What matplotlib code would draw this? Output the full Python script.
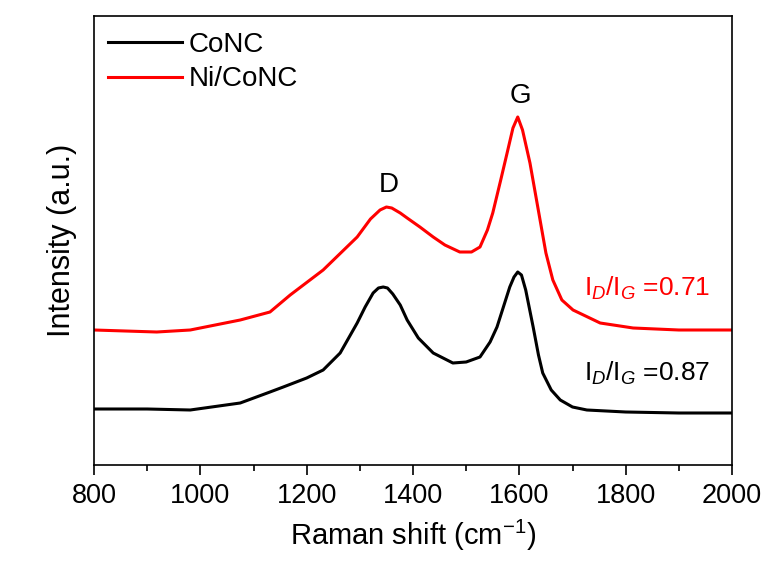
"""Raman spectra of CoNC and Ni/CoNC (D and G bands)."""
import matplotlib
matplotlib.use('Agg')
import matplotlib.pyplot as plt

plt.rcParams['font.family'] = ['Liberation Sans', 'DejaVu Sans']
plt.rcParams['mathtext.fontset'] = 'custom'
plt.rcParams['mathtext.rm'] = 'Liberation Sans'
plt.rcParams['mathtext.it'] = 'Liberation Sans:italic'

# data (intensity in a.u.)
conc_shift = [800, 900, 981, 1075, 1131, 1156, 1200, 1231, 1263, 1295, 1310, 1325,
              1335, 1344, 1352, 1362, 1376, 1389, 1410, 1438, 1475, 1500, 1526,
              1545, 1558, 1570, 1582, 1590, 1597, 1604, 1612, 1626, 1636, 1644,
              1660, 1677, 1700, 1727, 1800, 1900, 2000]
conc_int = [56, 56, 55, 62, 73, 78, 87, 95, 112, 142, 158, 172,
            177, 178, 177, 171, 160, 145, 127, 112, 102, 103, 108,
            123, 138, 158, 178, 188, 193, 190, 175, 138, 110, 92,
            75, 65, 58, 55, 53, 52, 52]

niconc_shift = [800, 918, 981, 1075, 1131, 1169, 1231, 1295, 1320, 1338, 1350, 1360,
                1376, 1389, 1413, 1438, 1460, 1488, 1510, 1526, 1540, 1550, 1565,
                1577, 1588, 1597, 1606, 1620, 1630, 1639, 1650, 1663, 1680, 1701,
                1752, 1814, 1900, 2000]
niconc_int = [135, 133, 135, 145, 153, 170, 195, 228, 246, 255, 258, 257,
              252, 247, 238, 228, 220, 213, 213, 218, 235, 252, 285,
              312, 337, 348, 335, 302, 272, 245, 212, 185, 165, 155,
              142, 137, 135, 135]

labels = ['CoNC', 'Ni/CoNC']
colors = ['black', 'red']
ratio_text = [r'I$_{\mathit{D}}$/I$_{\mathit{G}}$ =0.87', r'I$_{\mathit{D}}$/I$_{\mathit{G}}$ =0.71']

fig = plt.figure(figsize=(7.71, 5.76), dpi=100)
ax = fig.add_axes([94 / 771, 1 - 465 / 576, 638 / 771, 449 / 576])

ax.plot(conc_shift, conc_int, color=colors[0], linewidth=2.2, label=labels[0])
ax.plot(niconc_shift, niconc_int, color=colors[1], linewidth=2.2, label=labels[1])

ax.set_xlim(800, 2000)
ax.set_ylim(0, 449)
ax.set_xticks(range(800, 2001, 200))
ax.set_xticks(range(900, 2000, 200), minor=True)
ax.set_yticks([])
ax.tick_params(axis='x', which='major', direction='out', length=7, width=1.2,
               labelsize=19.5, pad=6, top=False)
ax.tick_params(axis='x', which='minor', direction='out', length=4, width=1.2, top=False)
for sp in ax.spines.values():
    sp.set_linewidth(1.2)

ax.set_xlabel(r'Raman shift (cm$^{\mathregular{-1}}$)', fontsize=21, labelpad=6)
ax.set_ylabel('Intensity (a.u.)', fontsize=22, labelpad=12)

# peak labels
ax.text(1355, 280, 'D', fontsize=20, ha='center', va='center')
ax.text(1603, 369, 'G', fontsize=20, ha='center', va='center')
ax.text(1960, 92, ratio_text[0], fontsize=19, ha='right', va='center', color=colors[0])
ax.text(1960, 177, ratio_text[1], fontsize=19, ha='right', va='center', color=colors[1])

ax.legend(loc='upper left', bbox_to_anchor=(14 / 638, 1 - 16 / 449), frameon=False,
          fontsize=20, handlelength=2.65, handletextpad=0.25, labelspacing=0.3,
          borderpad=0, borderaxespad=0)

fig.savefig('out.png', dpi=100)
plt.close(fig)
